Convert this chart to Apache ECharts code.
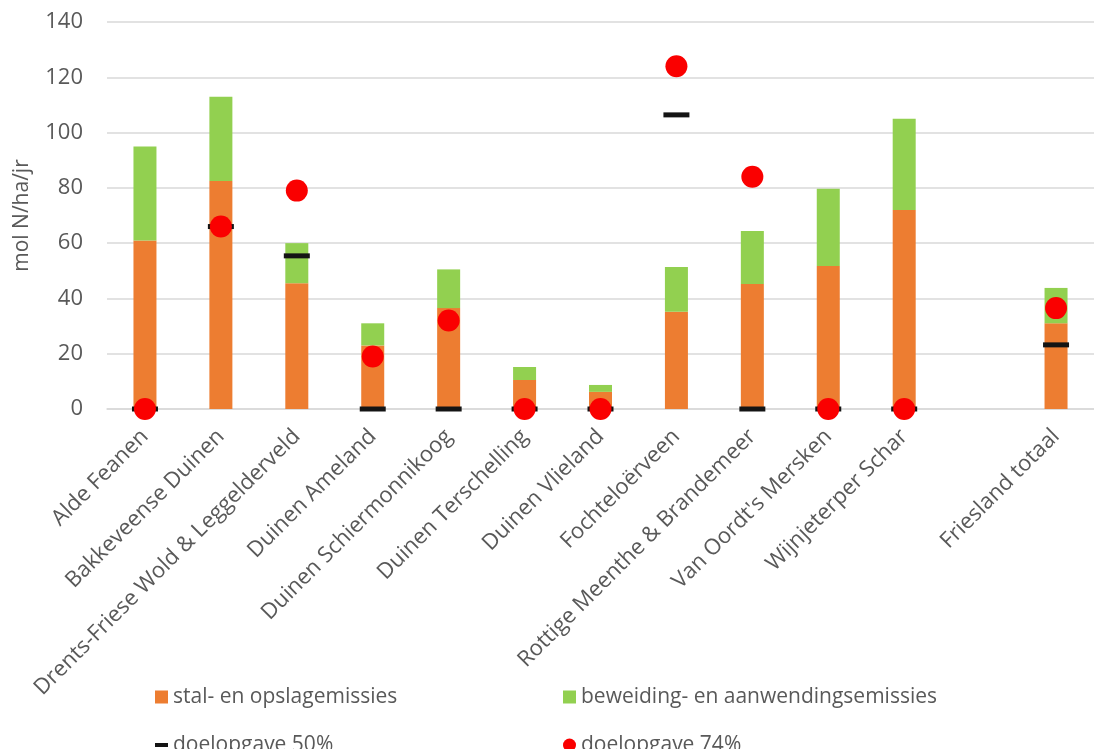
<!DOCTYPE html>
<html>
<head>
<meta charset="utf-8">
<script src="https://cdn.jsdelivr.net/npm/echarts@6/dist/echarts.min.js"></script>
<style>
    html, body { margin: 0; padding: 0; background: #ffffff; }
    #main { width: 1094px; height: 749px; }
</style>
</head>
<body>
<div id="main"></div>
<script>
    // gebieden (lege categorie = ruimte voor het totaal)
    var categories = ['Alde Feanen', 'Bakkeveense Duinen', 'Drents-Friese Wold & Leggelderveld', 'Duinen Ameland',
        'Duinen Schiermonnikoog', 'Duinen Terschelling', 'Duinen Vlieland', 'Fochteloërveen',
        'Rottige Meenthe & Brandemeer', 'Van Oordt\'s Mersken', 'Wijnjeterper Schar', '', 'Friesland totaal'];

    // stal- en opslagemissies (onderste deel)
    var stalValues = [61, 82.5, 45.5, 23, 36.5, 10.5, 6.2, 35.2, 45.2, 51.7, 72, null, 31];
    // beweiding- en aanwendingsemissies (bovenste deel)
    var beweidingValues = [34, 30.5, 14.5, 8, 14, 4.7, 2.5, 16.2, 19.2, 28, 33, null, 12.8];
    // doelopgaven
    var doel50 = [0, 66, 55.4, 0, 0, 0, 0, 106.4, 0, 0, 0, null, 23.2];
    var doel74 = [0, 66, 79, 19, 32, 0, 0, 124, 84, 0, 0, null, 36.5];

    var yTicks = { min: 0, max: 140, interval: 20 };

    var textColor = '#595959';
    var fontFamily = '"Open Sans", "Liberation Sans", sans-serif';

    // één legenda per item, zodat ze netjes in twee kolommen staan
    function legendItem(name, icon, left, top) {
        return {
            left: left, top: top,
            itemWidth: 13, itemHeight: 13, itemGap: 0,
            textStyle: { color: textColor, fontSize: 21, lineHeight: 22, fontFamily: fontFamily },
            data: [{ name: name, icon: icon }]
        };
    }

    var chart = echarts.init(document.getElementById('main'));
    chart.setOption({
        animation: false,
        textStyle: { fontFamily: fontFamily },
        grid: { left: 107, top: 22, width: 997, height: 387 },
        legend: [
            legendItem('stal- en opslagemissies', 'rect', 150, 681),
            legendItem('beweiding- en aanwendingsemissies', 'rect', 558, 681),
            legendItem('doelopgave 50%', 'path://M0,0 H13 V4 H0 Z', 150, 729),
            legendItem('doelopgave 74%', 'circle', 558, 729)
        ],
        xAxis: {
            type: 'category',
            data: categories,
            axisTick: { show: false },
            axisLine: { lineStyle: { color: '#d9d9d9', width: 1.5 } },
            axisLabel: {
                interval: 0, rotate: 45, margin: 24,
                color: textColor, fontSize: 22, fontFamily: fontFamily
            }
        },
        yAxis: {
            type: 'value',
            min: yTicks.min, max: yTicks.max, interval: yTicks.interval,
            name: 'mol N/ha/jr',
            nameLocation: 'middle',
            nameGap: 74,
            nameTextStyle: { color: textColor, fontSize: 21, fontFamily: fontFamily },
            axisLine: { show: false },
            axisTick: { show: false },
            axisLabel: { color: textColor, fontSize: 22, margin: 24, fontFamily: fontFamily },
            splitLine: { lineStyle: { color: '#d9d9d9', width: 1.5 } }
        },
        series: [
            {
                name: 'stal- en opslagemissies',
                type: 'bar', stack: 'emissie', barWidth: 23,
                itemStyle: { color: '#ED7D31' },
                data: stalValues
            },
            {
                name: 'beweiding- en aanwendingsemissies',
                type: 'bar', stack: 'emissie', barWidth: 23,
                itemStyle: { color: '#92D050' },
                data: beweidingValues
            },
            {
                name: 'doelopgave 50%',
                type: 'scatter', clip: false,
                symbol: 'rect', symbolSize: [26, 5],
                itemStyle: { color: '#141414', opacity: 1 },
                data: doel50
            },
            {
                name: 'doelopgave 74%',
                type: 'scatter', clip: false,
                symbol: 'circle', symbolSize: 22,
                itemStyle: { color: '#fa0000', opacity: 1 },
                data: doel74
            }
        ]
    });
</script>
</body>
</html>
